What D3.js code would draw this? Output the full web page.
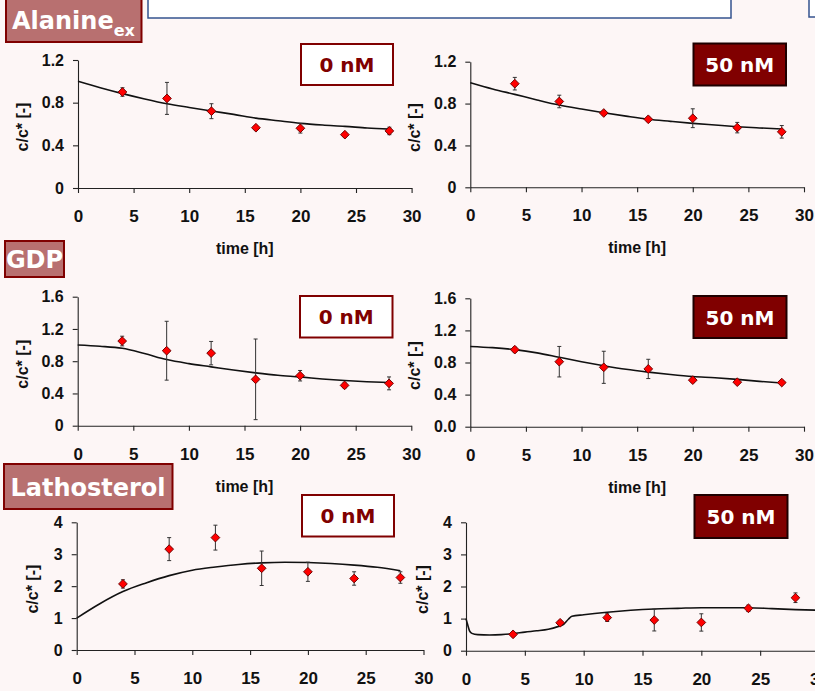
<!DOCTYPE html>
<html>
<head>
<meta charset="utf-8">
<script src="https://cdn.jsdelivr.net/npm/d3@7/dist/d3.min.js"></script>
<style>
  html, body { margin: 0; padding: 0; background: #fdf6f6; }
  svg { display: block; }
  .tick text { font-family: "Liberation Sans", Arial, sans-serif; font-weight: bold; fill: #111; }
</style>
</head>
<body>
<svg id="chart" width="815" height="691"></svg>
<script>
// Sampling times (h) of the measurements
const times = [4, 8, 12, 16, 20, 24, 28];

// Measured relative concentrations c/c* with standard deviations
const alanine0     = [0.90, 0.84, 0.72, 0.565, 0.56, 0.50, 0.535];
const alanine0Err  = [0.04, 0.15, 0.07, 0.02, 0.045, 0.02, 0.035];
const alanine50    = [0.99, 0.82, 0.71, 0.65, 0.66, 0.57, 0.53];
const alanine50Err = [0.06, 0.06, 0.02, 0.02, 0.09, 0.05, 0.06];
const gdp0         = [1.05, 0.93, 0.90, 0.575, 0.62, 0.50, 0.525];
const gdp0Err      = [0.06, 0.365, 0.145, 0.50, 0.065, 0.03, 0.08];
const gdp50        = [0.96, 0.81, 0.74, 0.72, 0.58, 0.555, 0.55];
const gdp50Err     = [0.03, 0.19, 0.20, 0.12, 0.03, 0.02, 0.02];
const latho0       = [2.07, 3.16, 3.52, 2.56, 2.45, 2.24, 2.27];
const latho0Err    = [0.13, 0.36, 0.39, 0.54, 0.30, 0.21, 0.18];
const latho50      = [0.51, 0.87, 1.03, 0.955, 0.88, 1.32, 1.65];
const latho50Err   = [0.05, 0.07, 0.12, 0.34, 0.27, 0.10, 0.15];

// Model simulations
const modelTimes = [0, 2, 4, 6, 8, 10, 12, 14, 16, 18, 20, 22, 24, 26, 28];
const alanine0Model  = [1.00, 0.94, 0.885, 0.835, 0.79, 0.755, 0.722, 0.69, 0.655, 0.63, 0.606, 0.59, 0.578, 0.562, 0.552];
const alanine50Model = [1.00, 0.94, 0.888, 0.835, 0.786, 0.748, 0.713, 0.68, 0.65, 0.63, 0.611, 0.595, 0.579, 0.567, 0.557];
const gdp0Model      = [1.00, 0.985, 0.96, 0.895, 0.82, 0.77, 0.73, 0.69, 0.655, 0.625, 0.605, 0.58, 0.56, 0.545, 0.535];
const gdp50Model     = [1.00, 0.985, 0.96, 0.92, 0.865, 0.81, 0.76, 0.715, 0.68, 0.65, 0.625, 0.61, 0.59, 0.565, 0.545];
const latho0Model    = [1.00, 1.45, 1.83, 2.10, 2.33, 2.50, 2.60, 2.68, 2.73, 2.75, 2.74, 2.71, 2.66, 2.59, 2.48];
const latho50ModelT  = [0, 0.15, 0.3, 0.5, 1, 2, 3, 4, 5, 6, 7, 7.8, 8.3, 8.7, 9, 10, 12, 14, 16, 18, 20, 22, 24, 26, 28, 30, 31];
const latho50Model   = [1.00, 0.80, 0.62, 0.54, 0.50, 0.49, 0.50, 0.53, 0.58, 0.62, 0.67, 0.75, 0.82, 0.98, 1.07, 1.12, 1.20, 1.26, 1.30, 1.32, 1.34, 1.34, 1.34, 1.31, 1.28, 1.26, 1.25];

// Axis ticks
const xTicks = [0, 5, 10, 15, 20, 25, 30];
const yTicksSmall = [0, 0.4, 0.8, 1.2];
const yLabelsSmall = ["0", "0.4", "0.8", "1.2"];
const yTicksMid = [0, 0.4, 0.8, 1.2, 1.6];
const yLabelsMid = ["0", "0.4", "0.8", "1.2", "1.6"];
const yLabelsMidDec = ["0.0", "0.4", "0.8", "1.2", "1.6"];
const yTicksLarge = [0, 1, 2, 3, 4];
const yLabelsLarge = ["0", "1", "2", "3", "4"];

const svg = d3.select("#chart");
svg.append("rect").attr("width", 815).attr("height", 691).attr("fill", "#fdf6f6");

// Header boxes at the top edge
svg.append("rect").attr("x", 148).attr("y", -6).attr("width", 583).attr("height", 24)
  .attr("fill", "#ffffff").attr("stroke", "#34538f").attr("stroke-width", 1.5);
svg.append("rect").attr("x", 809).attr("y", -6).attr("width", 30).attr("height", 23)
  .attr("fill", "#ffffff").attr("stroke", "#34538f").attr("stroke-width", 1.5);

const panels = [
  { x0: 78,  x1: 411.6, yT: 60,    yB: 188,   yMax: 1.2, ticks: yTicksSmall, labels: yLabelsSmall,
    obs: alanine0, err: alanine0Err, mT: modelTimes, m: alanine0Model, badge: "0 nM", dark: false,
    badgeBox: [301, 44, 92, 41], yLabX: 28, xTitle: true },
  { x0: 470.3, x1: 804, yT: 61.7,  yB: 187.3, yMax: 1.2, ticks: yTicksSmall, labels: yLabelsSmall,
    obs: alanine50, err: alanine50Err, mT: modelTimes, m: alanine50Model, badge: "50 nM", dark: true,
    badgeBox: [693.5, 43.5, 92.5, 42], yLabX: 420, xTitle: true },
  { x0: 77.7, x1: 411.3, yT: 296.7, yB: 425.7, yMax: 1.6, ticks: yTicksMid, labels: yLabelsMid,
    obs: gdp0, err: gdp0Err, mT: modelTimes, m: gdp0Model, badge: "0 nM", dark: false,
    badgeBox: [300, 296, 92.5, 41.5], yLabX: 28, xTitle: true },
  { x0: 470.3, x1: 804, yT: 298.3, yB: 426.7, yMax: 1.6, ticks: yTicksMid, labels: yLabelsMidDec,
    obs: gdp50, err: gdp50Err, mT: modelTimes, m: gdp50Model, badge: "50 nM", dark: true,
    badgeBox: [693.5, 296, 93, 42], yLabX: 420, xTitle: true },
  { x0: 76.7, x1: 423.5, yT: 522.3, yB: 650,   yMax: 4, ticks: yTicksLarge, labels: yLabelsLarge,
    obs: latho0, err: latho0Err, mT: modelTimes, m: latho0Model, badge: "0 nM", dark: false,
    badgeBox: [302, 495, 92, 41.5], yLabX: 38, xTitle: false },
  { x0: 466, x1: 819, yT: 522.3, yB: 650.7, yMax: 4, ticks: yTicksLarge, labels: yLabelsLarge,
    obs: latho50, err: latho50Err, mT: latho50ModelT, m: latho50Model, badge: "50 nM", dark: true,
    badgeBox: [694.5, 495, 93, 43], yLabX: 428, xTitle: false }
];

panels.forEach(p => {
  const x = d3.scaleLinear().domain([0, 30]).range([p.x0, p.x1]);
  const y = d3.scaleLinear().domain([0, p.yMax]).range([p.yB, p.yT]);
  const g = svg.append("g");

  // x axis
  const xa = g.append("g").attr("transform", `translate(0,${p.yB})`)
    .call(d3.axisBottom(x).tickValues(xTicks).tickFormat(d3.format("d"))
      .tickSize(5).tickSizeOuter(0).tickPadding(17));
  xa.selectAll("text").style("font-size", "17px");

  // y axis
  const ya = g.append("g").attr("transform", `translate(${p.x0},0)`)
    .call(d3.axisLeft(y).tickValues(p.ticks).tickFormat((d, i) => p.labels[i])
      .tickSize(5).tickSizeOuter(0).tickPadding(9));
  ya.selectAll("text").style("font-size", "16px");

  g.selectAll(".domain, .tick line").attr("stroke", "#222").attr("stroke-width", 1.1);

  // Axis titles
  g.append("text")
    .attr("transform", `translate(${p.yLabX},${(p.yT + p.yB) / 2 + 3}) rotate(-90)`)
    .attr("text-anchor", "middle")
    .attr("font-family", "Liberation Sans, Arial, sans-serif").attr("font-weight", "bold")
    .attr("font-size", 16).attr("fill", "#111").text("c/c* [-]");
  if (p.xTitle) {
    g.append("text")
      .attr("x", (p.x0 + p.x1) / 2).attr("y", p.yB + 66)
      .attr("text-anchor", "middle")
      .attr("font-family", "Liberation Sans, Arial, sans-serif").attr("font-weight", "bold")
      .attr("font-size", 16).attr("fill", "#111").text("time [h]");
  }

  // Model curve
  const line = d3.line().x(d => x(d[0])).y(d => y(d[1])).curve(d3.curveMonotoneX);
  g.append("path").datum(p.mT.map((t, i) => [t, p.m[i]]))
    .attr("d", line).attr("fill", "none").attr("stroke", "#111").attr("stroke-width", 1.6);

  // Error bars
  const eb = g.append("g").selectAll("g").data(times.map((t, i) => ({ t, v: p.obs[i], e: p.err[i] })))
    .join("g").attr("stroke", "#333").attr("stroke-width", 1);
  eb.append("line").attr("x1", d => x(d.t)).attr("x2", d => x(d.t))
    .attr("y1", d => y(d.v - d.e)).attr("y2", d => y(d.v + d.e));
  eb.append("line").attr("x1", d => x(d.t) - 2).attr("x2", d => x(d.t) + 2)
    .attr("y1", d => y(d.v - d.e)).attr("y2", d => y(d.v - d.e));
  eb.append("line").attr("x1", d => x(d.t) - 2).attr("x2", d => x(d.t) + 2)
    .attr("y1", d => y(d.v + d.e)).attr("y2", d => y(d.v + d.e));

  // Measurement markers (diamonds)
  const diamond = d3.symbol().type(d3.symbolSquare).size(38);
  g.append("g").selectAll("path").data(times.map((t, i) => ({ t, v: p.obs[i] })))
    .join("path").attr("d", diamond)
    .attr("transform", d => `translate(${x(d.t)},${y(d.v)}) rotate(45)`)
    .attr("fill", "#ff0000").attr("stroke", "#6a0000").attr("stroke-width", 0.9);

  // Concentration badge
  const [bx, by, bw, bh] = p.badgeBox;
  g.append("rect").attr("x", bx).attr("y", by).attr("width", bw).attr("height", bh)
    .attr("fill", p.dark ? "#800000" : "#ffffff")
    .attr("stroke", p.dark ? "#1e0000" : "#800000").attr("stroke-width", 2);
  g.append("text").attr("x", bx + bw / 2).attr("y", by + bh / 2 + 7.5)
    .attr("text-anchor", "middle")
    .attr("font-family", "DejaVu Sans, Verdana, sans-serif").attr("font-weight", "bold")
    .attr("font-size", 20).attr("fill", p.dark ? "#ffffff" : "#800000").text(p.badge);
});

// Metabolite name tags
function tag(x, y, w, h) {
  svg.append("rect").attr("x", x).attr("y", y).attr("width", w).attr("height", h)
    .attr("fill", "#b87070").attr("stroke", "#800000").attr("stroke-width", 2);
}
tag(6, -6, 135.5, 48);
const alaText = svg.append("text").attr("x", 12).attr("y", 29)
  .attr("font-family", "DejaVu Sans, Verdana, sans-serif").attr("font-weight", "bold")
  .attr("font-size", 24).attr("fill", "#ffffff");
alaText.append("tspan").text("Alanine");
alaText.append("tspan").attr("dy", 7).attr("font-size", 16).text("ex");

tag(5, 241, 59, 36);
svg.append("text").attr("x", 34.5).attr("y", 268).attr("text-anchor", "middle")
  .attr("font-family", "DejaVu Sans, Verdana, sans-serif").attr("font-weight", "bold")
  .attr("font-size", 24).attr("fill", "#ffffff").text("GDP");

tag(4, 464, 168.5, 45);
svg.append("text").attr("x", 88).attr("y", 496).attr("text-anchor", "middle")
  .attr("font-family", "DejaVu Sans, Verdana, sans-serif").attr("font-weight", "bold")
  .attr("font-size", 24).attr("fill", "#ffffff").text("Lathosterol");
</script>
</body>
</html>
